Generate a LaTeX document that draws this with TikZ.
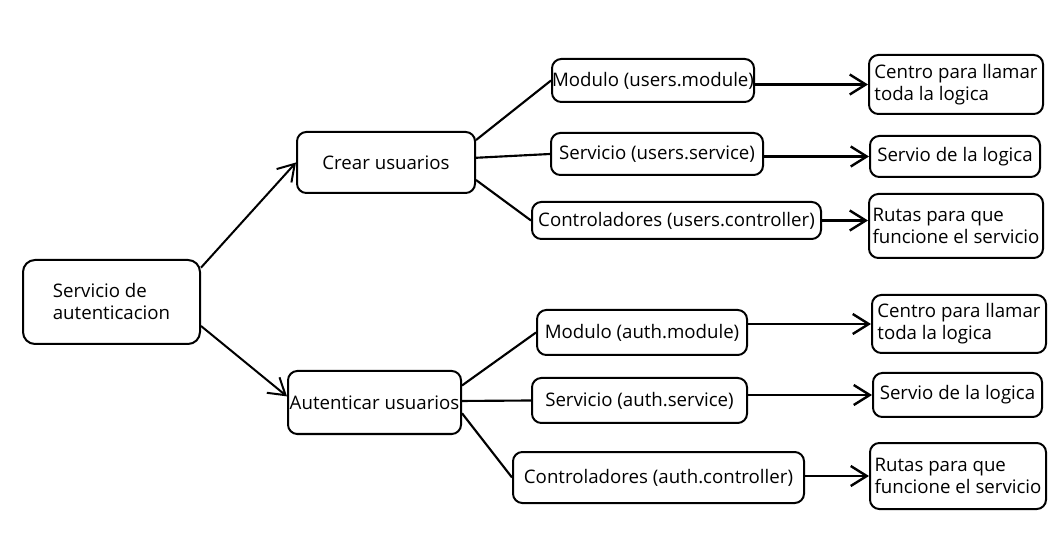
\documentclass[tikz,border=0pt]{standalone}
\usepackage{fontspec}
\setmainfont{Open Sans}
\usetikzlibrary{arrows.meta}
\begin{document}
\begin{tikzpicture}[x=0.75pt,y=-0.75pt,
  box/.style={draw=black, line width=1.5pt, rounded corners=7pt, inner sep=0pt,
    align=center, font=\fontsize{14}{16.5}\selectfont, text=black},
  lbox/.style={box, align=left},
  sz/.style 2 args={minimum width=#1*0.75pt, minimum height=#2*0.75pt},
  ln/.style={line width=1.6pt, black},
  arr/.style={ln, line width=1.8pt, -{Straight Barb[length=12pt,width=15pt]}}]
\useasboundingbox (0,0) rectangle (1061,545);
% main nodes
\node[lbox, rounded corners=9pt, sz={177}{84}] (root) at (111.5,302) {Servicio de\\autenticacion};
\node[box, sz={178}{61}] (crear) at (386,162.5) {Crear usuarios};
\node[box, sz={173}{63}] (autu) at (374.5,402.5) {Autenticar usuarios};
% users
\node[box, sz={202}{43}] (um) at (653,80.5) {Modulo (users.module)};
\node[box, sz={212}{42}] (us) at (657,154) {Servicio (users.service)};
\node[box, sz={289}{37}] (uc) at (676.5,220.5) {Controladores (users.controller)};
\node[lbox, sz={174}{59}] (cu) at (956,84.5) {Centro para llamar\\toda la logica};
\node[box, sz={170}{41}] (su) at (955,156.5) {Servio de la logica};
\node[lbox, sz={174}{64}] (ru) at (956,226) {Rutas para que\\funcione el servicio};
% auth
\node[box, sz={210}{45}] (am) at (642,332.5) {Modulo (auth.module)};
\node[box, sz={215}{45}] (asv) at (639.5,400.5) {Servicio (auth.service)};
\node[box, sz={291}{51}] (ac) at (658.5,477.5) {Controladores (auth.controller)};
\node[lbox, sz={174}{58}] (ca) at (959,324) {Centro para llamar\\toda la logica};
\node[box, sz={169}{44}] (sa) at (957.5,395) {Servio de la logica};
\node[lbox, sz={176}{66}] (ra) at (958,476) {Rutas para que\\funcione el servicio};
% connectors
\draw[arr, line width=1.5pt] (root.21) -- (crear.west);
\draw[arr, line width=1.5pt] (root.-15) -- (autu.176);
\draw[ln] (crear.14) -- (um.west);
\draw[ln] (crear.3) -- (us.west);
\draw[ln] (crear.-11) -- (uc.west);
\draw[ln] (autu.11) -- (am.west);
\draw[ln] (autu.1) -- (asv.west);
\draw[ln] (autu.-7) -- (ac.west);
\draw[arr] (cu.west -| um.east) -- (cu.west);
\draw[arr] (su.west -| us.east) -- (su.west);
\draw[arr] (uc.east) -- (uc.east -| ru.west);
\draw[arr] (ca.west -| am.east) -- (ca.west);
\draw[arr] (sa.west -| asv.east) -- (sa.west);
\draw[arr] (ra.west -| ac.east) -- (ra.west);
\end{tikzpicture}
\end{document}
